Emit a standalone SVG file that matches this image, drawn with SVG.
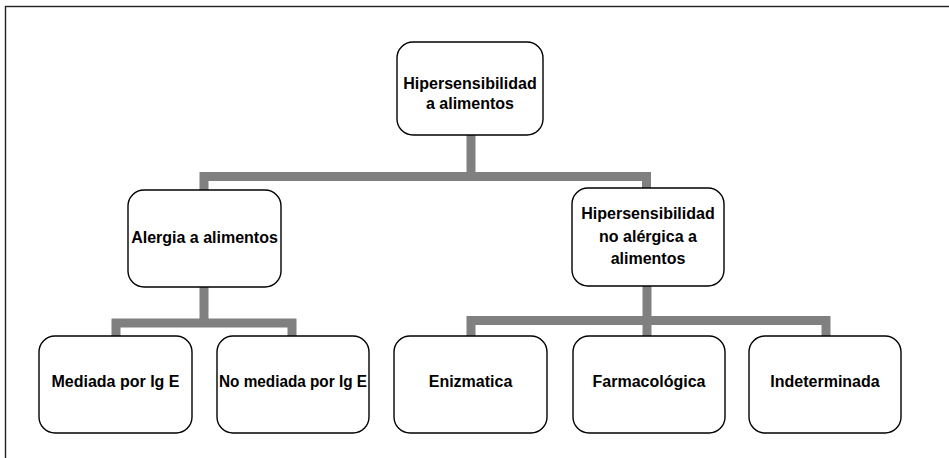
<svg xmlns="http://www.w3.org/2000/svg" width="949" height="458" viewBox="0 0 949 458">
<style>
.box{fill:#fff;stroke:#000;stroke-width:1.4}
.lbl{font-family:"Liberation Sans",Arial,Helvetica,sans-serif;font-weight:bold;font-size:16px;fill:#000;text-anchor:middle}
.con{fill:none;stroke:#808080;stroke-width:9;stroke-linejoin:miter;stroke-linecap:butt}
.frame{fill:#fff;stroke:#222;stroke-width:1.4}
</style>
<rect class="frame" x="5.5" y="6.5" width="960" height="470"/>
<g id="connectors">
<path class="con" d="M471,135 V176.5"/>
<path class="con" d="M204,190 V176.5 H646.5 V188"/>
<path class="con" d="M204,287 V323"/>
<path class="con" d="M116,336 V323 H292 V336"/>
<path class="con" d="M647,286 V336"/>
<path class="con" d="M471,336 V320.5 H826 V336"/>
</g>
<g id="n0">
<rect class="box" x="397" y="42" width="146" height="93" rx="16"/>
<text class="lbl" x="470" y="89">Hipersensibilidad</text>
<text class="lbl" x="470" y="109">a alimentos</text>
</g>
<g id="n1">
<rect class="box" x="128" y="190" width="153" height="97" rx="16"/>
<text class="lbl" x="204.5" y="243">Alergia a alimentos</text>
</g>
<g id="n2">
<rect class="box" x="572" y="188" width="152" height="98" rx="16"/>
<text class="lbl" x="648" y="219">Hipersensibilidad</text>
<text class="lbl" x="648" y="242">no alérgica a</text>
<text class="lbl" x="648" y="264">alimentos</text>
</g>
<g id="n3">
<rect class="box" x="39" y="336" width="153" height="97" rx="16"/>
<text class="lbl" x="115.5" y="387">Mediada por Ig E</text>
</g>
<g id="n4">
<rect class="box" x="217" y="336" width="152" height="97" rx="16"/>
<text class="lbl" x="293" y="387" textLength="148" lengthAdjust="spacingAndGlyphs">No mediada por Ig E</text>
</g>
<g id="n5">
<rect class="box" x="394" y="336" width="153" height="97" rx="16"/>
<text class="lbl" x="470.5" y="387">Enizmatica</text>
</g>
<g id="n6">
<rect class="box" x="573" y="336" width="152" height="97" rx="16"/>
<text class="lbl" x="649" y="387">Farmacológica</text>
</g>
<g id="n7">
<rect class="box" x="749" y="336" width="152" height="97" rx="16"/>
<text class="lbl" x="825" y="387">Indeterminada</text>
</g>
</svg>
